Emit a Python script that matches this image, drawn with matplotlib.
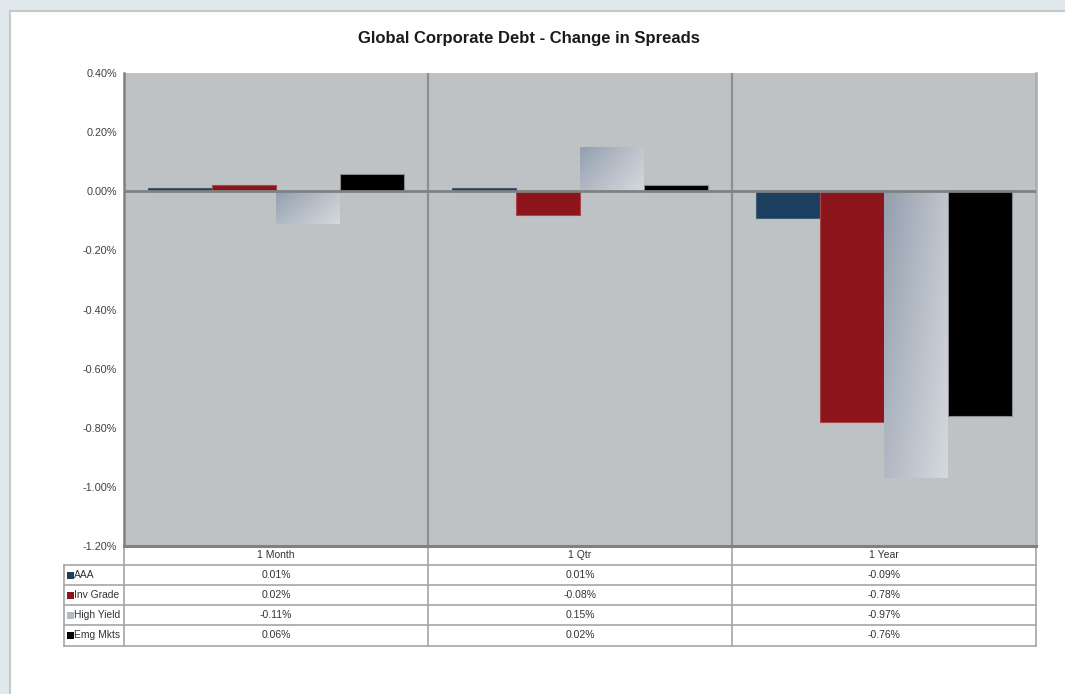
import numpy as np
import matplotlib
matplotlib.use("Agg")
import matplotlib.pyplot as plt
from matplotlib import transforms
from matplotlib.patches import Rectangle
from matplotlib.lines import Line2D
from matplotlib.ticker import FuncFormatter

# ---- data ----
categories = ["1 Month", "1 Qtr", "1 Year"]
series_names = ["AAA", "Inv Grade", "High Yield", "Emg Mkts"]
aaa = [0.01, 0.01, -0.09]
inv_grade = [0.02, -0.08, -0.78]
high_yield = [-0.11, 0.15, -0.97]
emg_mkts = [0.06, 0.02, -0.76]
y_ticks = [0.40, 0.20, 0.00, -0.20, -0.40, -0.60, -0.80, -1.00, -1.20]

series_values = [aaa, inv_grade, high_yield, emg_mkts]
face_colors = ["#1c3f5f", "#8b151a", None, "#000000"]
edge_colors = ["#3c5c7a", "#a8464e", None, "#8a8a8a"]
legend_swatch = ["#1c3f5f", "#8b151a", "#b3bac4", "#000000"]

plt.rcParams["font.family"] = ["Liberation Sans", "DejaVu Sans"]

W, H = 1065, 694
fig = plt.figure(figsize=(W / 100, H / 100), dpi=100, facecolor="#e1e8eb")


def fx(px):
    return px / W


def fy(py):
    return 1 - py / H


# white card behind the chart
fig.patches.append(Rectangle((fx(10), -0.1), 1.2, fy(11) + 0.1,
                             transform=fig.transFigure, facecolor="white",
                             edgecolor="#c3c9cc", lw=1.5, zorder=-5))

ax = fig.add_axes([fx(124), fy(546), (1036 - 124) / W, (546 - 73) / H])
ax.set_facecolor("#bfc2c5")

n_series = len(series_values)
bar_w = 64 / 304
x = np.arange(len(categories))
offsets = (np.arange(n_series) - (n_series - 1) / 2) * bar_w

hy_bars = None
for i, vals in enumerate(series_values):
    if face_colors[i] is None:
        hy_bars = ax.bar(x + offsets[i], vals, width=bar_w, color="none",
                         edgecolor="none", zorder=2)
    else:
        ax.bar(x + offsets[i], vals, width=bar_w, color=face_colors[i],
               edgecolor=edge_colors[i], linewidth=0.8, zorder=2)

# gradient fill for the High Yield bars (darker top-left, lighter bottom-right)
tl = np.array([0x93, 0x9f, 0xaf]) / 255
tr = np.array([0xc0, 0xc5, 0xcc]) / 255
bl = np.array([0xb0, 0xb8, 0xc3]) / 255
br = np.array([0xd5, 0xd9, 0xde]) / 255
n = 64
u = np.linspace(0, 1, n)[None, :, None]
v = np.linspace(0, 1, n)[:, None, None]
grad = (tl * (1 - u) * (1 - v) + tr * u * (1 - v)
        + bl * (1 - u) * v + br * u * v)
for b in hy_bars:
    x0 = b.get_x()
    x1 = x0 + b.get_width()
    y_lo = min(b.get_y(), b.get_y() + b.get_height())
    y_hi = max(b.get_y(), b.get_y() + b.get_height())
    im = ax.imshow(grad, extent=(x0, x1, y_lo, y_hi), origin="upper",
                   aspect="auto", interpolation="bilinear", zorder=2)
    im.set_clip_path(b)

ax.set_xlim(-0.5, len(categories) - 0.5)
ax.set_ylim(min(y_ticks), max(y_ticks))
ax.set_yticks(y_ticks)
ax.yaxis.set_major_formatter(FuncFormatter(lambda val, pos: f"{val:.2f}%"))
ax.tick_params(axis="y", length=0, pad=5, labelsize=7.8, labelcolor="#404040")
ax.set_xticks([])

ax.axhline(0, color="#808080", lw=2, zorder=3)
for xc in x[:-1] + 0.5:
    ax.axvline(xc, color="#8c8e91", lw=1.6, zorder=1)

ax.spines["top"].set_visible(False)
ax.spines["left"].set_color("#808080")
ax.spines["left"].set_linewidth(1.8)
ax.spines["right"].set_color("#a9abae")
ax.spines["right"].set_linewidth(1.8)
ax.spines["bottom"].set_color("#808080")
ax.spines["bottom"].set_linewidth(2.2)

fig.text(fx(529), fy(39), "Global Corporate Debt - Change in Spreads",
         ha="center", va="center", fontsize=12, fontweight="bold",
         color="#1a1a1a")

# ---- data table under the plot ----
trans = transforms.blended_transform_factory(ax.transData, fig.transFigure)
row_edges = [546, 565, 585, 605, 625, 646]
x_left = -0.5 - (124 - 64) / 304
x_right = len(categories) - 0.5
line_kw = dict(color="#a3a5a8", lw=1.2, transform=trans, clip_on=False)

for yy in row_edges[1:]:
    ax.add_line(Line2D([x_left, x_right], [fy(yy), fy(yy)], **line_kw))
for xb in np.arange(len(categories) + 1) - 0.5:
    ax.add_line(Line2D([xb, xb], [fy(row_edges[0]), fy(row_edges[-1])], **line_kw))
ax.add_line(Line2D([x_left, x_left], [fy(row_edges[1]), fy(row_edges[-1])], **line_kw))

txt_kw = dict(ha="center", va="center", fontsize=7.5, color="#333333",
              transform=trans)
hdr_y = fy((row_edges[0] + row_edges[1]) / 2)
for j, cat in enumerate(categories):
    ax.text(j, hdr_y, cat, **txt_kw)

for i, (name, vals) in enumerate(zip(series_names, series_values)):
    yc = (row_edges[i + 1] + row_edges[i + 2]) / 2
    for j, val in enumerate(vals):
        ax.text(j, fy(yc), f"{val:.2f}%", **txt_kw)
    fig.patches.append(Rectangle((fx(67), fy(yc + 3.5)), 6.5 / W, 7 / H,
                                 transform=fig.transFigure,
                                 facecolor=legend_swatch[i], edgecolor="none"))
    fig.text(fx(74), fy(yc), name, ha="left", va="center", fontsize=7.4,
             color="#333333")

fig.savefig("out.png", dpi=100, facecolor=fig.get_facecolor())
